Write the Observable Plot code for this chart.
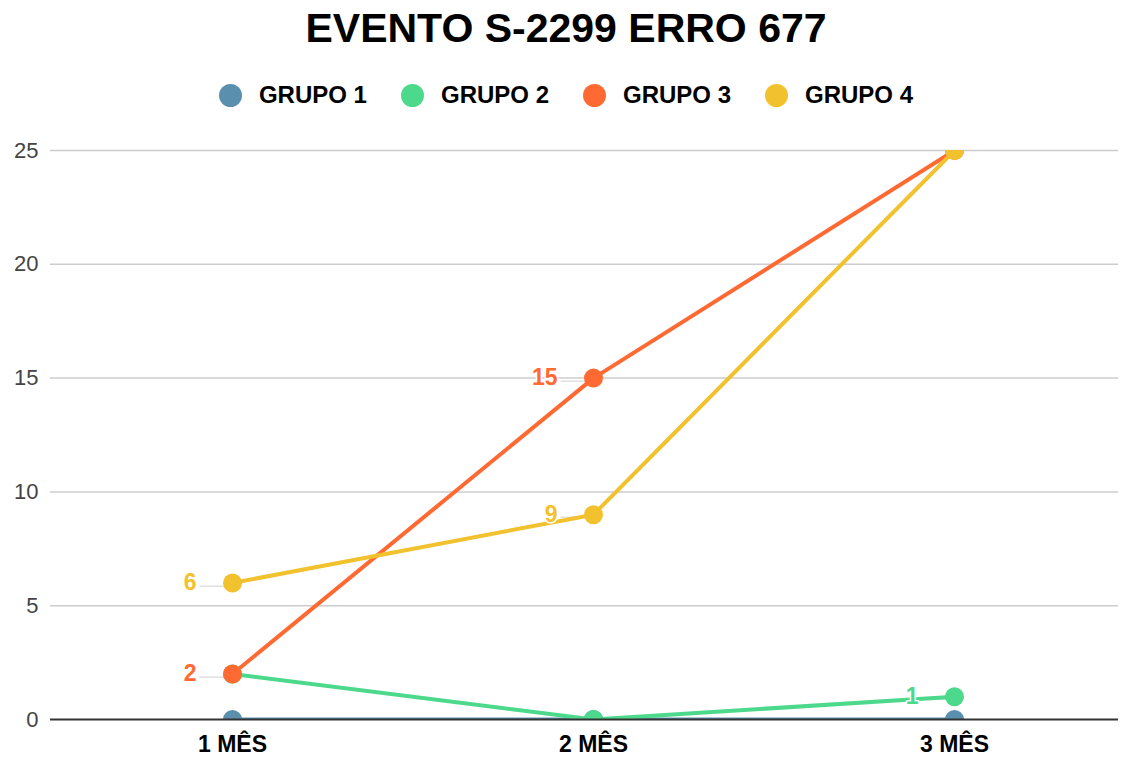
<!DOCTYPE html>
<html>
<head>
<meta charset="utf-8">
<script src="https://cdn.jsdelivr.net/npm/d3@7"></script>
<script src="https://cdn.jsdelivr.net/npm/@observablehq/plot@0.6"></script>
<style>
  html, body { margin: 0; padding: 0; background: #fff; }
  body { width: 1132px; height: 758px; position: relative; overflow: hidden; font-family: "Liberation Sans", Arial, sans-serif; }
  #title { position: absolute; left: 0; top: 4px; width: 1132px; text-align: center; font-size: 41px; font-weight: bold; color: #000; line-height: 48px; }
  #legend { position: absolute; left: 0; top: 80px; width: 1132px; display: flex; justify-content: center; align-items: center; height: 30px; }
  .item { display: flex; align-items: center; margin: 0 17px; font-size: 24px; font-weight: bold; color: #000; }
  .sw { width: 23px; height: 23px; border-radius: 50%; margin-right: 17px; }
  #chart { position: absolute; left: 0; top: 130px; }
</style>
</head>
<body>
<div id="title">EVENTO S-2299 ERRO 677</div>
<div id="legend"></div>
<div id="chart"></div>
<script>
const months = ["1 MÊS", "2 MÊS", "3 MÊS"];
const groups = ["GRUPO 1", "GRUPO 2", "GRUPO 3", "GRUPO 4"];
const colors = ["#5a8fae", "#4cd98b", "#ff6a33", "#f2c12e"];
const grupo1 = [0, 0, 0];
const grupo2 = [2, 0, 1];
const grupo3 = [2, 15, 25];
const grupo4 = [6, 9, 25];
const yTicks = [0, 5, 10, 15, 20, 25];
// which points carry a value label: [group index, month index]
const labelled = [[3, 0], [3, 1], [2, 0], [2, 1], [1, 2]];

const series = [grupo1, grupo2, grupo3, grupo4];
const data = [];
series.forEach((vals, gi) => vals.forEach((v, mi) => data.push({group: groups[gi], month: months[mi], value: v})));
const labels = labelled.map(([gi, mi]) => ({group: groups[gi], month: months[mi], value: series[gi][mi]}));

const legend = document.getElementById("legend");
groups.forEach((g, i) => {
  const it = document.createElement("div");
  it.className = "item";
  it.innerHTML = `<span class="sw" style="background:${colors[i]}"></span><span>${g}</span>`;
  legend.appendChild(it);
});

const chart = Plot.plot({
  width: 1132,
  height: 628,
  marginLeft: 50,
  marginRight: 14,
  marginTop: 20,
  marginBottom: 39,
  style: {fontFamily: '"Liberation Sans", Arial, sans-serif', fontSize: "20px", background: "#fff"},
  x: {type: "point", domain: months, padding: 0.477, align: 0.525, label: null},
  y: {domain: [0, 25], label: null},
  color: {domain: groups, range: colors},
  marks: [
    Plot.gridY(yTicks.filter(d => d > 0), {stroke: "#cccccc", strokeOpacity: 1, strokeWidth: 1.5}),
    Plot.axisY(yTicks, {tickSize: 0, tickPadding: 12, fontSize: 22, fill: "#444", label: null}),
    Plot.axisX({tickSize: 0, tickPadding: 16, fontSize: 23, fontWeight: "bold", fill: "#000", label: null}),
    Plot.text(labels, {x: "month", y: "value", text: () => "—", fill: "#e2e2e2", textAnchor: "end", dx: -9, dy: 1, fontSize: 24}),
    Plot.line(data, {x: "month", y: "value", z: "group", stroke: "group", strokeWidth: 4, clip: true}),
    Plot.dot(data, {x: "month", y: "value", fill: "group", r: 9.5, clip: true}),
    Plot.ruleY([0], {stroke: "#333", strokeWidth: 2}),
    Plot.text(labels, {x: "month", y: "value", text: d => String(d.value), fill: "group", textAnchor: "end", dx: -36, fontSize: 23, fontWeight: "bold", stroke: "white", strokeWidth: 3})
  ]
});
document.getElementById("chart").appendChild(chart);
</script>
</body>
</html>
